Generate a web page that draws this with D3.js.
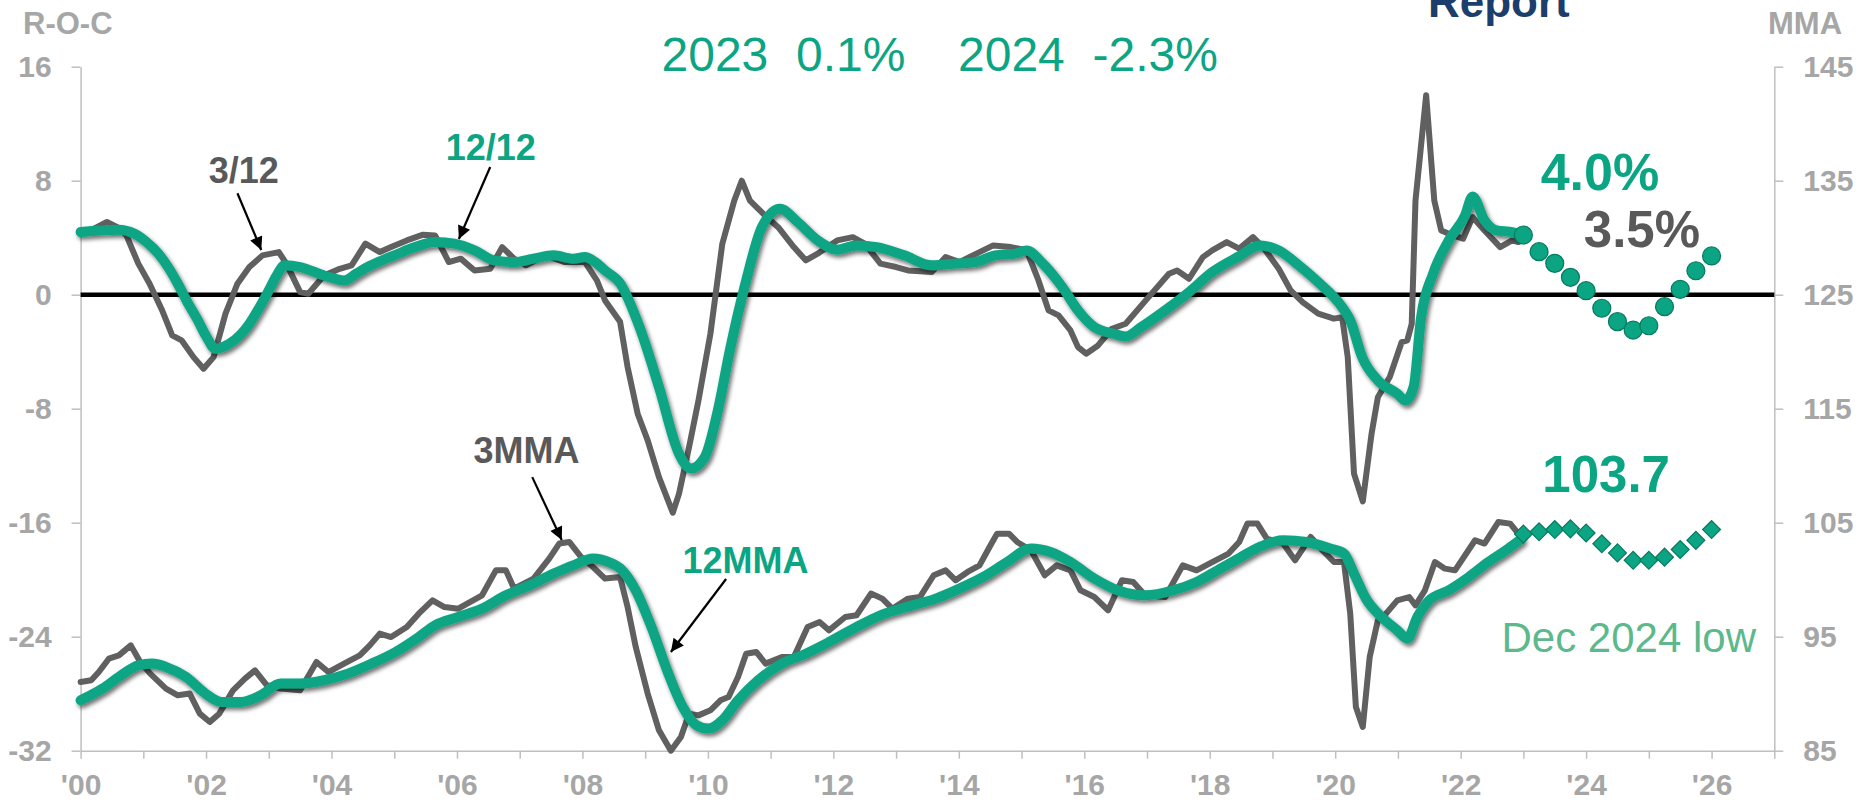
<!DOCTYPE html>
<html><head><meta charset="utf-8">
<script src="https://cdn.jsdelivr.net/npm/d3@7"></script>
<style>
html,body{margin:0;padding:0;background:#fff;}
svg{display:block;}
text{font-family:"Liberation Sans",Arial,sans-serif;}
</style></head><body>
<svg id="chart" width="1859" height="803"></svg>
<script>
// ---------- DATA ----------
const xTickYears = [2000,2002,2004,2006,2008,2010,2012,2014,2016,2018,2020,2022,2024,2026];
const xTickLabels = ["'00","'02","'04","'06","'08","'10","'12","'14","'16","'18","'20","'22","'24","'26"];
const leftTicks = [16,8,0,-8,-16,-24,-32];
const rightTicks = [145,135,125,115,105,95,85];
const headline = ["2023","0.1%","2024","-2.3%"];

// 3/12 rate-of-change (gray, left axis) [decimal year, %]
const roc312 = [[2000.0,4.28],[2000.2,4.6],[2000.42,5.1],[2000.6,4.7],[2000.73,4.16],[2000.92,2.18],[2001.1,0.77],[2001.3,-1.1],[2001.46,-2.86],[2001.61,-3.2],[2001.8,-4.38],[2001.96,-5.19],[2002.12,-4.38],[2002.31,-1.33],[2002.5,0.77],[2002.69,1.94],[2002.9,2.76],[2003.16,2.99],[2003.28,2.18],[2003.5,0.18],[2003.63,0.07],[2003.88,1.35],[2004.13,1.82],[2004.32,2.06],[2004.54,3.58],[2004.77,2.99],[2004.95,3.34],[2005.2,3.81],[2005.46,4.21],[2005.65,4.16],[2005.87,2.29],[2006.06,2.53],[2006.28,1.7],[2006.53,1.82],[2006.72,3.34],[2006.91,2.53],[2007.1,2.06],[2007.41,2.76],[2007.72,2.29],[2008.04,2.29],[2008.23,1.0],[2008.36,-0.4],[2008.6,-1.9],[2008.72,-5.08],[2008.88,-8.35],[2009.04,-10.22],[2009.22,-12.8],[2009.44,-15.3],[2009.54,-13.96],[2009.7,-10.7],[2009.85,-7.42],[2010.04,-2.74],[2010.23,3.58],[2010.42,6.6],[2010.54,8.0],[2010.67,6.6],[2010.9,5.6],[2011.12,4.74],[2011.37,3.34],[2011.56,2.41],[2011.75,2.88],[2012.06,3.81],[2012.31,4.04],[2012.5,3.58],[2012.75,2.18],[2013.0,1.94],[2013.19,1.7],[2013.57,1.59],[2013.79,2.64],[2014.01,2.29],[2014.33,2.99],[2014.55,3.46],[2014.83,3.34],[2015.08,3.11],[2015.27,1.0],[2015.43,-1.1],[2015.59,-1.45],[2015.78,-2.51],[2015.9,-3.68],[2016.03,-4.14],[2016.22,-3.56],[2016.44,-2.39],[2016.66,-2.04],[2016.98,-0.4],[2017.35,1.47],[2017.48,1.7],[2017.67,1.12],[2017.89,2.64],[2018.04,3.11],[2018.27,3.69],[2018.47,3.23],[2018.69,4.04],[2018.85,3.34],[2019.1,1.82],[2019.29,0.3],[2019.48,-0.52],[2019.73,-1.33],[2019.98,-1.68],[2020.11,-1.57],[2020.2,-4.38],[2020.3,-12.56],[2020.44,-14.5],[2020.58,-9.75],[2020.68,-7.19],[2020.87,-5.78],[2021.06,-3.32],[2021.15,-3.2],[2021.22,-2.04],[2021.28,6.6],[2021.45,14.0],[2021.58,6.6],[2021.69,4.51],[2021.88,4.16],[2022.04,3.93],[2022.19,5.45],[2022.38,4.51],[2022.63,3.34],[2022.82,3.81],[2022.92,3.7]];

// 12/12 rate-of-change (green, left axis)
const roc1212 = [[2000.0,4.4],[2000.3,4.5],[2000.6,4.56],[2000.86,4.28],[2001.05,3.7],[2001.24,2.88],[2001.4,1.9],[2001.55,0.77],[2001.7,-0.5],[2001.87,-1.8],[2002.0,-2.9],[2002.15,-3.79],[2002.37,-3.44],[2002.55,-2.8],[2002.69,-2.04],[2002.85,-0.9],[2003.0,0.3],[2003.12,1.3],[2003.25,2.06],[2003.5,1.94],[2003.88,1.35],[2004.2,1.0],[2004.4,1.5],[2004.57,1.94],[2004.8,2.4],[2005.0,2.76],[2005.33,3.34],[2005.65,3.69],[2005.96,3.58],[2006.28,3.11],[2006.59,2.41],[2006.91,2.29],[2007.22,2.53],[2007.54,2.76],[2007.85,2.53],[2008.04,2.64],[2008.2,2.3],[2008.36,1.7],[2008.6,0.8],[2008.91,-2.27],[2009.22,-6.48],[2009.54,-11.16],[2009.73,-12.2],[2009.95,-11.4],[2010.17,-7.9],[2010.35,-3.9],[2010.61,1.0],[2010.86,4.74],[2011.15,6.03],[2011.43,5.1],[2011.75,3.81],[2012.06,3.16],[2012.37,3.46],[2012.69,3.34],[2013.13,2.76],[2013.57,2.06],[2013.95,2.18],[2014.27,2.29],[2014.58,2.76],[2014.9,2.88],[2015.08,3.11],[2015.34,2.18],[2015.65,0.53],[2015.9,-1.1],[2016.16,-2.27],[2016.47,-2.74],[2016.66,-2.93],[2016.91,-2.27],[2017.29,-1.1],[2017.67,0.18],[2018.04,1.59],[2018.47,2.7],[2018.79,3.46],[2019.1,3.11],[2019.42,2.06],[2019.73,0.88],[2020.11,-0.87],[2020.24,-1.8],[2020.43,-4.38],[2020.68,-6.01],[2020.99,-6.95],[2021.12,-7.42],[2021.25,-6.48],[2021.37,-1.57],[2021.56,1.47],[2021.81,3.81],[2022.07,5.56],[2022.19,6.9],[2022.38,5.21],[2022.57,4.51],[2022.82,4.39],[2022.95,4.2]];

// 3MMA (gray, right axis)
const mma3 = [[2000.0,91.03],[2000.17,91.18],[2000.29,91.9],[2000.45,93.07],[2000.61,93.36],[2000.8,94.24],[2000.95,92.78],[2001.11,91.76],[2001.36,90.45],[2001.55,89.86],[2001.74,90.01],[2001.9,88.25],[2002.06,87.52],[2002.21,88.25],[2002.43,90.3],[2002.62,91.32],[2002.78,92.05],[2002.97,90.74],[2003.19,90.45],[2003.5,90.3],[2003.76,92.78],[2003.95,91.9],[2004.2,92.64],[2004.45,93.36],[2004.61,94.24],[2004.77,95.27],[2004.95,94.97],[2005.2,95.85],[2005.39,97.02],[2005.61,98.19],[2005.8,97.6],[2006.02,97.46],[2006.4,98.63],[2006.62,100.82],[2006.78,100.82],[2006.91,99.22],[2007.22,100.1],[2007.47,101.85],[2007.63,103.17],[2007.79,103.31],[2007.98,101.99],[2008.17,101.11],[2008.36,100.1],[2008.6,100.24],[2008.72,97.6],[2008.85,94.09],[2009.04,90.01],[2009.22,86.79],[2009.41,85.0],[2009.57,86.2],[2009.7,88.25],[2009.85,88.1],[2010.04,88.54],[2010.2,89.42],[2010.33,89.71],[2010.48,91.47],[2010.61,93.51],[2010.77,93.66],[2010.92,92.64],[2011.18,93.22],[2011.37,93.22],[2011.59,95.85],[2011.78,96.29],[2011.93,95.56],[2012.19,96.73],[2012.37,96.88],[2012.6,98.78],[2012.78,98.34],[2012.94,97.46],[2013.19,98.34],[2013.38,98.48],[2013.6,100.39],[2013.79,100.82],[2013.95,99.95],[2014.14,100.68],[2014.33,101.26],[2014.49,102.87],[2014.61,104.04],[2014.8,104.04],[2014.93,103.31],[2015.15,102.57],[2015.37,100.39],[2015.56,101.26],[2015.78,100.82],[2015.94,99.07],[2016.16,98.48],[2016.38,97.32],[2016.6,99.95],[2016.78,99.8],[2016.97,98.63],[2017.29,98.48],[2017.57,101.26],[2017.79,100.82],[2018.04,101.55],[2018.3,102.29],[2018.47,103.31],[2018.6,104.92],[2018.76,104.92],[2018.91,103.6],[2019.17,103.17],[2019.36,101.7],[2019.61,103.75],[2019.8,102.57],[2019.98,101.55],[2020.14,101.55],[2020.24,97.02],[2020.33,88.83],[2020.44,87.08],[2020.55,93.22],[2020.68,96.44],[2020.81,97.02],[2020.99,98.19],[2021.18,98.48],[2021.28,97.75],[2021.43,99.07],[2021.59,101.55],[2021.75,100.97],[2021.91,100.82],[2022.23,103.46],[2022.38,103.17],[2022.6,105.06],[2022.79,104.92],[2022.92,104.04]];

// 12MMA (green, right axis)
const mma12 = [[2000.0,89.42],[2000.35,90.45],[2000.61,91.47],[2000.92,92.49],[2001.14,92.64],[2001.36,92.35],[2001.68,91.47],[2001.99,90.01],[2002.24,89.28],[2002.56,89.28],[2002.87,89.86],[2003.19,90.89],[2003.5,90.89],[2003.88,91.18],[2004.26,91.76],[2004.64,92.64],[2005.02,93.66],[2005.39,94.97],[2005.65,96.0],[2006.02,96.73],[2006.4,97.46],[2006.78,98.63],[2007.16,99.51],[2007.54,100.53],[2007.85,101.26],[2008.17,101.85],[2008.42,101.55],[2008.6,101.0],[2008.85,99.07],[2009.1,95.85],[2009.35,92.05],[2009.6,88.83],[2009.82,87.23],[2010.01,86.94],[2010.23,87.67],[2010.48,89.42],[2010.8,91.18],[2011.18,92.64],[2011.56,93.51],[2011.93,94.53],[2012.37,95.85],[2012.75,96.88],[2013.26,97.75],[2013.63,98.34],[2014.01,99.22],[2014.39,100.24],[2014.77,101.55],[2015.15,102.73],[2015.46,102.43],[2015.78,101.55],[2016.16,100.1],[2016.53,99.07],[2016.97,98.63],[2017.42,99.07],[2017.79,99.8],[2018.17,100.97],[2018.47,101.9],[2018.79,102.87],[2019.17,103.46],[2019.54,103.31],[2019.92,102.73],[2020.14,102.29],[2020.3,100.53],[2020.49,98.34],[2020.74,96.73],[2020.99,95.56],[2021.15,94.83],[2021.31,96.73],[2021.5,98.19],[2021.81,99.07],[2022.13,100.24],[2022.44,101.55],[2022.76,102.73],[2022.95,103.5]];

// Forecast (quarterly)
const forecastYears = [2023.0,2023.25,2023.5,2023.75,2024.0,2024.25,2024.5,2024.75,2025.0,2025.25,2025.5,2025.75,2026.0];
const forecastRoc = [4.19,3.02,2.2,1.22,0.28,-0.95,-1.89,-2.48,-2.18,-0.84,0.38,1.68,2.72];
const forecastMma = [104.0,104.2,104.4,104.46,104.1,103.15,102.35,101.7,101.7,101.98,102.65,103.45,104.4];

// ---------- SETUP ----------
const svg = d3.select("#chart");
const plot = {left:80.6, right:1774.3, top:66.7, bottom:750.7};
const x = d3.scaleLinear().domain([2000,2027]).range([plot.left, plot.right]);
const yL = d3.scaleLinear().domain([-32,16]).range([plot.bottom, plot.top]);
const yR = d3.scaleLinear().domain([85,145]).range([plot.bottom, plot.top]);

const GREEN = "#0ba583", GREEN_DARK = "#07795f", GRAY = "#606060", DGRAY = "#595959",
      TICKGRAY = "#a6a6a6", AXIS = "#bfbfbf", LIGHTGREEN = "#5cb98b";

const defs = svg.append("defs");
const flt = defs.append("filter").attr("id","shadow").attr("filterUnits","userSpaceOnUse")
  .attr("x",0).attr("y",0).attr("width",1859).attr("height",803);
flt.append("feDropShadow").attr("dx",2).attr("dy",3).attr("stdDeviation",2)
  .attr("flood-color","#000").attr("flood-opacity",0.55);
defs.append("marker").attr("id","arrow").attr("viewBox","0 0 10 10")
  .attr("refX",10).attr("refY",5).attr("markerUnits","userSpaceOnUse")
  .attr("markerWidth",16).attr("markerHeight",13).attr("orient","auto")
  .append("path").attr("d","M0,0 L10,5 L0,10 z").attr("fill","#000");

// ---------- AXES ----------
function styleAxis(g, fontSize){
  g.select(".domain").attr("stroke",AXIS).attr("stroke-width",1.5);
  g.selectAll(".tick line").attr("stroke",AXIS).attr("stroke-width",1.5);
  g.selectAll(".tick text").attr("fill",TICKGRAY).attr("font-size",fontSize)
    .attr("font-weight","bold").attr("font-family","'Liberation Sans', Arial, sans-serif");
}
const gL = svg.append("g").attr("transform",`translate(${plot.left},0)`)
  .call(d3.axisLeft(yL).tickValues(leftTicks).tickSize(9).tickSizeOuter(0).tickPadding(20)
    .tickFormat(d => String(d)));
styleAxis(gL, 30);
const gR = svg.append("g").attr("transform",`translate(${plot.right},0)`)
  .call(d3.axisRight(yR).tickValues(rightTicks).tickSize(9).tickSizeOuter(0).tickPadding(20)
    .tickFormat(d => String(d)));
styleAxis(gR, 30);
const allYears = d3.range(2000, 2028);
const gB = svg.append("g").attr("transform",`translate(0,${plot.bottom})`)
  .call(d3.axisBottom(x).tickValues(allYears).tickSize(8).tickSizeOuter(0).tickPadding(15)
    .tickFormat(d => { const i = xTickYears.indexOf(d); return i >= 0 ? xTickLabels[i] : ""; }));
styleAxis(gB, 30);

// axis titles
svg.append("text").attr("x",23).attr("y",34).attr("fill",TICKGRAY).attr("font-size",31)
  .attr("font-weight","bold").text("R-O-C");
svg.append("text").attr("x",1768).attr("y",34).attr("fill",TICKGRAY).attr("font-size",31)
  .attr("font-weight","bold").text("MMA");

// zero line
svg.append("line").attr("x1",x(2000)).attr("x2",x(2027)).attr("y1",yL(0)).attr("y2",yL(0))
  .attr("stroke","#000").attr("stroke-width",4.5);

// ---------- LINES ----------
function drawLine(data, yScale, color, width, shadow, curve){
  const line = d3.line().x(d=>x(d[0])).y(d=>yScale(d[1])).curve(curve);
  const p = svg.append("path").datum(data).attr("d",line).attr("fill","none")
    .attr("stroke",color).attr("stroke-width",width)
    .attr("stroke-linejoin","round").attr("stroke-linecap","round");
  if (shadow) p.attr("filter","url(#shadow)");
}
drawLine(roc312, yL, GRAY, 6, false, d3.curveLinear);
drawLine(mma3, yR, GRAY, 6, false, d3.curveLinear);
drawLine(roc1212, yL, GREEN, 10, true, d3.curveMonotoneX);
drawLine(mma12, yR, GREEN, 10, true, d3.curveMonotoneX);

// forecast markers
const fc = forecastYears.map((yr,i)=>({yr, roc:forecastRoc[i], mma:forecastMma[i]}));
svg.append("g").selectAll("circle").data(fc).join("circle")
  .attr("cx",d=>x(d.yr)).attr("cy",d=>yL(d.roc)).attr("r",9)
  .attr("fill",GREEN).attr("stroke",GREEN_DARK).attr("stroke-width",1.2);
const diamond = d3.symbol().type(d3.symbolSquare).size(160);
svg.append("g").selectAll("path").data(fc).join("path")
  .attr("d",diamond)
  .attr("transform",d=>`translate(${x(d.yr)},${yR(d.mma)}) rotate(45)`)
  .attr("fill",GREEN).attr("stroke",GREEN_DARK).attr("stroke-width",1.2);

// ---------- ANNOTATIONS ----------
function label(txt, xv, yv, yScale, color, size, weight){
  svg.append("text").attr("x",x(xv)).attr("y",yScale(yv)).attr("text-anchor","middle")
    .attr("fill",color).attr("font-size",size).attr("font-weight",weight).text(txt);
}
function arrow(x1,y1,x2,y2,yScale){
  svg.append("line").attr("x1",x(x1)).attr("y1",yScale(y1)).attr("x2",x(x2)).attr("y2",yScale(y2))
    .attr("stroke","#000").attr("stroke-width",2.2).attr("marker-end","url(#arrow)");
}
label("3/12", 2002.6, 7.84, yL, DGRAY, 36, "bold");
arrow(2002.5, 7.12, 2002.88, 3.14, yL);
label("12/12", 2006.54, 9.45, yL, GREEN, 36, "bold");
arrow(2006.53, 8.96, 2006.03, 3.91, yL);
label("3MMA", 2007.11, 110.24, yR, DGRAY, 36, "bold");
arrow(2007.2, 109.0, 2007.67, 103.48, yR);
label("12MMA", 2010.6, 100.59, yR, GREEN, 36, "bold");
arrow(2010.29, 100.06, 2009.41, 93.66, yR);
label("4.0%", 2024.22, 7.35, yL, GREEN, 52, "bold");
label("3.5%", 2024.89, 3.37, yL, DGRAY, 51, "bold");
label("103.7", 2024.32, 107.72, yR, GREEN, 51, "bold");
label("Dec 2024 low", 2024.68, 93.68, yR, LIGHTGREEN, 42, "normal");

// headline
const headX = [661.5, 796, 958, 1092.5];
headline.forEach((t,i)=>{
  svg.append("text").attr("x",headX[i]).attr("y",70.7).attr("fill",GREEN)
    .attr("font-size",48).text(t);
});

// clipped "Report" title at top (cut off at the edge, as in the source)
svg.append("text").attr("x",1428).attr("y",17).attr("fill","#1b3e6c")
  .attr("font-family","'Open Sans', sans-serif").attr("font-weight",600)
  .attr("font-size",44).text("Report");
</script>
</body></html>
